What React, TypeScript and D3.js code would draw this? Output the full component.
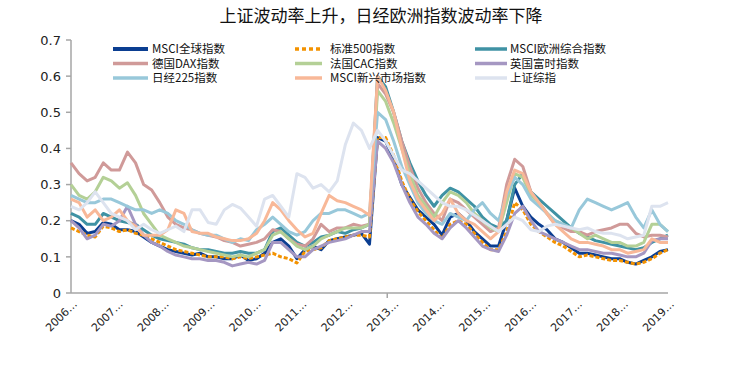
import React, { useEffect, useRef } from "react";
import * as d3 from "d3";

const chartTitle = "上证波动率上升，日经欧洲指数波动率下降";
const yearLabels = ["2006…", "2007…", "2008…", "2009…", "2010…", "2011…", "2012…", "2013…", "2014…", "2015…", "2016…", "2017…", "2018…", "2019…"];
const yTicks = [0, 0.1, 0.2, 0.3, 0.4, 0.5, 0.6, 0.7];

const msciWorld = [
  0.2, 0.19, 0.165, 0.17, 0.195, 0.19, 0.175, 0.175, 0.17, 0.155,
  0.14, 0.13, 0.12, 0.115, 0.11, 0.105, 0.11, 0.1, 0.1, 0.095,
  0.095, 0.105, 0.09, 0.095, 0.11, 0.14, 0.15, 0.13, 0.095, 0.12,
  0.13, 0.12, 0.145, 0.15, 0.155, 0.16, 0.165, 0.135,
  0.43, 0.42, 0.37, 0.3, 0.265, 0.23, 0.21, 0.19, 0.16, 0.21,
  0.22, 0.2, 0.17, 0.15, 0.13, 0.13, 0.2, 0.29, 0.24, 0.21,
  0.19, 0.175, 0.15, 0.14, 0.125, 0.11, 0.11, 0.105, 0.1, 0.095,
  0.095, 0.085, 0.08, 0.09, 0.1, 0.115, 0.12,
];
const sp500 = [
  0.18, 0.17, 0.16, 0.155, 0.185, 0.18, 0.17, 0.175, 0.165, 0.16,
  0.15, 0.14, 0.13, 0.12, 0.115, 0.11, 0.105, 0.1, 0.1, 0.1,
  0.095, 0.1, 0.095, 0.1, 0.105, 0.11, 0.1, 0.095, 0.083, 0.115,
  0.12, 0.125, 0.145, 0.15, 0.155, 0.16, 0.16, 0.155,
  0.43, 0.43, 0.38, 0.31, 0.26, 0.225, 0.2, 0.175, 0.15, 0.19,
  0.2, 0.19, 0.165, 0.14, 0.12, 0.12, 0.17, 0.25, 0.23, 0.19,
  0.17, 0.155, 0.14, 0.13, 0.115, 0.1, 0.105, 0.1, 0.095, 0.09,
  0.09, 0.085, 0.08, 0.085, 0.095, 0.11, 0.12,
];
const msciEurope = [
  0.22, 0.21, 0.19, 0.19, 0.22, 0.21, 0.2, 0.195, 0.19, 0.175,
  0.16, 0.15, 0.145, 0.14, 0.135, 0.125, 0.12, 0.12, 0.115, 0.11,
  0.11, 0.115, 0.11, 0.11, 0.12, 0.17, 0.18, 0.16, 0.14, 0.13,
  0.14, 0.155, 0.16, 0.17, 0.165, 0.175, 0.18, 0.19,
  0.6, 0.57, 0.5, 0.42, 0.36, 0.31, 0.27, 0.24, 0.27, 0.29,
  0.28, 0.26, 0.24, 0.21, 0.19, 0.18, 0.2, 0.3, 0.33, 0.28,
  0.26, 0.24, 0.22, 0.2, 0.18, 0.165, 0.155, 0.145, 0.14, 0.135,
  0.13, 0.125, 0.12, 0.125, 0.14, 0.15, 0.16,
];
const dax = [
  0.36, 0.33, 0.31, 0.32, 0.36, 0.34, 0.34, 0.39, 0.36, 0.3,
  0.285, 0.25, 0.21, 0.19, 0.18, 0.175, 0.165, 0.16, 0.155, 0.145,
  0.14, 0.13, 0.135, 0.14, 0.15, 0.175, 0.17, 0.15, 0.135, 0.13,
  0.15, 0.19, 0.17, 0.18, 0.18, 0.19, 0.185, 0.19,
  0.58, 0.55, 0.5, 0.42, 0.35, 0.29, 0.25, 0.22, 0.2, 0.26,
  0.25, 0.23, 0.21, 0.19, 0.17, 0.18, 0.3, 0.37, 0.35, 0.28,
  0.25, 0.22, 0.19, 0.18, 0.17, 0.17, 0.16, 0.17, 0.175, 0.18,
  0.19, 0.19, 0.165, 0.155, 0.16, 0.16, 0.155,
];
const cac = [
  0.3, 0.27, 0.26, 0.28, 0.32, 0.31, 0.29, 0.305, 0.27, 0.22,
  0.19, 0.16, 0.15, 0.14, 0.13, 0.125, 0.12, 0.115, 0.11, 0.105,
  0.1, 0.105, 0.1, 0.11, 0.12, 0.16, 0.17, 0.15, 0.13, 0.12,
  0.13, 0.15, 0.16, 0.17, 0.18, 0.18, 0.18, 0.19,
  0.56, 0.53, 0.47, 0.4, 0.33, 0.27, 0.24, 0.21, 0.25, 0.28,
  0.27, 0.25, 0.22, 0.2, 0.18, 0.17, 0.25, 0.33, 0.32, 0.27,
  0.25, 0.22, 0.2, 0.19, 0.18, 0.165, 0.15, 0.16, 0.15, 0.14,
  0.14, 0.13, 0.13, 0.14, 0.19, 0.19, 0.17,
];
const ftse = [
  0.2, 0.18, 0.15, 0.16, 0.19, 0.185, 0.2, 0.24, 0.19, 0.16,
  0.14, 0.13, 0.115, 0.105, 0.1, 0.095, 0.095, 0.09, 0.09, 0.085,
  0.075, 0.08, 0.085, 0.08, 0.09, 0.14, 0.14, 0.12, 0.1, 0.1,
  0.12, 0.13, 0.14, 0.145, 0.15, 0.16, 0.17, 0.17,
  0.42, 0.4, 0.36, 0.3, 0.25, 0.21, 0.19, 0.165, 0.15, 0.18,
  0.2, 0.18, 0.155, 0.13, 0.12, 0.115, 0.16, 0.22, 0.24, 0.2,
  0.17, 0.16, 0.15, 0.14, 0.13, 0.12, 0.12, 0.115, 0.11, 0.11,
  0.105, 0.1, 0.1, 0.11, 0.145, 0.15, 0.15,
];
const nikkei = [
  0.27, 0.26, 0.25, 0.25, 0.26, 0.26, 0.25, 0.24, 0.23, 0.23,
  0.22, 0.23, 0.22, 0.2, 0.19, 0.175, 0.165, 0.16, 0.16, 0.15,
  0.14, 0.15, 0.145, 0.175, 0.19, 0.21, 0.19, 0.17, 0.16, 0.17,
  0.2, 0.22, 0.22, 0.23, 0.23, 0.22, 0.21, 0.22,
  0.5, 0.48, 0.42, 0.35, 0.3, 0.25, 0.22, 0.2, 0.19, 0.22,
  0.21, 0.2, 0.23, 0.25, 0.22, 0.2, 0.27, 0.32, 0.3, 0.26,
  0.24, 0.22, 0.2, 0.19, 0.18, 0.23, 0.26, 0.25, 0.24, 0.23,
  0.24, 0.25, 0.21, 0.18, 0.23, 0.19, 0.17,
];
const msciEm = [
  0.26, 0.25, 0.21, 0.23, 0.2, 0.21, 0.23, 0.2, 0.185, 0.16,
  0.16, 0.16, 0.175, 0.23, 0.22, 0.17, 0.165, 0.165, 0.155, 0.15,
  0.145, 0.145, 0.15, 0.165, 0.2, 0.25, 0.23, 0.2, 0.175, 0.155,
  0.165, 0.22, 0.27, 0.255, 0.25, 0.24, 0.23, 0.215,
  0.6, 0.56, 0.5, 0.4, 0.31, 0.26, 0.23, 0.2, 0.22, 0.26,
  0.22, 0.2, 0.19, 0.17, 0.15, 0.17, 0.28, 0.34, 0.33, 0.28,
  0.25, 0.22, 0.19, 0.17, 0.15, 0.14, 0.14, 0.135, 0.13, 0.12,
  0.12, 0.11, 0.115, 0.12, 0.15, 0.14, 0.14,
];
const shanghai = [
  0.24, 0.23, 0.25, 0.28, 0.25, 0.22, 0.21, 0.2, 0.175, 0.19,
  0.175, 0.165, 0.175, 0.185, 0.17, 0.23, 0.23, 0.195, 0.19, 0.23,
  0.245, 0.235, 0.21, 0.185, 0.26, 0.27, 0.24, 0.21, 0.33, 0.32,
  0.29, 0.3, 0.28, 0.31, 0.41, 0.47, 0.45, 0.4,
  0.45, 0.42, 0.38, 0.34, 0.33, 0.31, 0.29, 0.27, 0.25, 0.24,
  0.24, 0.23, 0.215, 0.2, 0.185, 0.17, 0.19, 0.21, 0.2, 0.175,
  0.17, 0.185, 0.19, 0.185, 0.18, 0.175, 0.18, 0.17, 0.165, 0.165,
  0.16, 0.15, 0.155, 0.16, 0.24, 0.24, 0.25,
];

const seriesNames = ["MSCI全球指数", "标准500指数", "MSCI欧洲综合指数", "德国DAX指数", "法国CAC指数", "英国富时指数", "日经225指数", "MSCI新兴市场指数", "上证综指"];
const seriesValues = [msciWorld, sp500, msciEurope, dax, cac, ftse, nikkei, msciEm, shanghai];
const seriesColors = ["#0b3e91", "#f39200", "#3f92a4", "#d09a99", "#b4d096", "#a597c2", "#98c8da", "#f8b898", "#dde3ef"];

const W = 750;
const H = 371;
const plot = { left: 71, right: 668, top: 40, bottom: 293 };

export default function App() {
  const svgRef = useRef<SVGSVGElement>(null);

  useEffect(() => {
    const svg = d3.select(svgRef.current);
    svg.selectAll("*").remove();

    const n = msciWorld.length;
    const x = d3.scaleLinear().domain([0, n - 1]).range([plot.left, plot.right]);
    const y = d3.scaleLinear().domain([0, 0.7]).range([plot.bottom, plot.top]);
    const xLab = d3.scalePoint<string>().domain(yearLabels).range([plot.left, plot.right]);

    svg
      .append("text")
      .attr("x", 381)
      .attr("y", 22)
      .attr("text-anchor", "middle")
      .attr("font-family", "'Noto Sans CJK SC', sans-serif")
      .attr("font-size", 17)
      .attr("fill", "#111")
      .text(chartTitle);

    // axes
    const axisColor = "#a6a6a6";
    svg.append("line")
      .attr("x1", plot.left).attr("x2", plot.left)
      .attr("y1", plot.top).attr("y2", plot.bottom)
      .attr("stroke", axisColor).attr("stroke-width", 1.5);
    svg.append("line")
      .attr("x1", plot.left).attr("x2", plot.right)
      .attr("y1", plot.bottom).attr("y2", plot.bottom)
      .attr("stroke", axisColor).attr("stroke-width", 1.5);

    const yg = svg.append("g");
    yg.selectAll("line")
      .data(yTicks)
      .join("line")
      .attr("x1", plot.left - 5).attr("x2", plot.left)
      .attr("y1", (d) => y(d)).attr("y2", (d) => y(d))
      .attr("stroke", axisColor).attr("stroke-width", 1.5);
    yg.selectAll("text")
      .data(yTicks)
      .join("text")
      .attr("x", plot.left - 10)
      .attr("y", (d) => y(d))
      .attr("dy", "0.36em")
      .attr("text-anchor", "end")
      .attr("font-family", "'DejaVu Sans', Verdana, sans-serif")
      .attr("font-size", 13)
      .attr("fill", "#222")
      .text((d) => (d === 0 ? "0" : d3.format(".1f")(d)));

    // the single category tick Excel drew on the x axis
    svg.append("line")
      .attr("x1", x(39.2)).attr("x2", x(39.2))
      .attr("y1", plot.bottom).attr("y2", plot.bottom + 5)
      .attr("stroke", axisColor).attr("stroke-width", 1.5);

    svg.append("g")
      .selectAll("text")
      .data(yearLabels)
      .join("text")
      .attr("transform", (d) => `translate(${(xLab(d) as number) + 4},${plot.bottom + 9}) rotate(-45)`)
      .attr("dy", "0.35em")
      .attr("text-anchor", "end")
      .attr("font-family", "'DejaVu Sans', Verdana, sans-serif")
      .attr("font-size", 11)
      .attr("fill", "#222")
      .text((d) => d);

    // lines, in series order (later series on top, as Excel draws them)
    const line = d3.line<number>().x((_, i) => x(i)).y((d) => y(d));
    const lg = svg.append("g").attr("fill", "none").attr("stroke-linejoin", "round");
    seriesValues.forEach((vals, k) => {
      lg.append("path")
        .datum(vals)
        .attr("stroke", seriesColors[k])
        .attr("stroke-width", 3)
        .attr("stroke-dasharray", k === 1 ? "4,2" : null)
        .attr("d", line);
    });

    // legend (3 columns, row-major)
    const colLine = [[113, 148], [295, 322], [475, 507]];
    const colText = [152, 330, 510];
    const rowY = [49, 63.5, 78];
    const leg = svg.append("g");
    seriesNames.forEach((name, k) => {
      const c = k % 3;
      const r = Math.floor(k / 3);
      leg.append("line")
        .attr("x1", colLine[c][0]).attr("x2", colLine[c][1])
        .attr("y1", rowY[r]).attr("y2", rowY[r])
        .attr("stroke", seriesColors[k])
        .attr("stroke-width", k === 0 ? 4 : 3.5)
        .attr("stroke-dasharray", k === 1 ? "4,3" : null);
      leg.append("text")
        .attr("x", colText[c])
        .attr("y", rowY[r])
        .attr("dy", "0.36em")
        .attr("font-family", "'Noto Sans CJK SC', sans-serif")
        .attr("font-size", 11.5)
        .attr("fill", "#111")
        .text(name);
    });
  }, []);

  return (
    <svg
      ref={svgRef}
      width={W}
      height={H}
      style={{ position: "absolute", left: 0, top: 0, background: "#fff" }}
    />
  );
}
